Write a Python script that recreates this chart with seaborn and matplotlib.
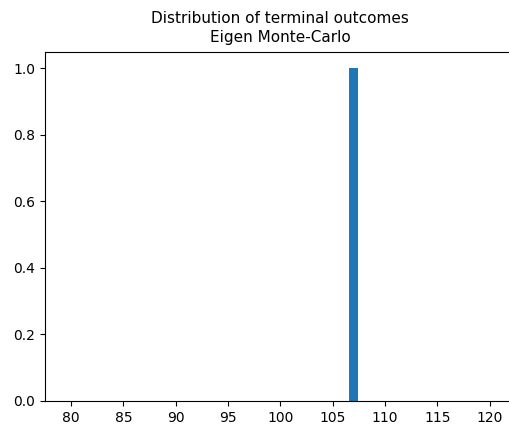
import matplotlib
matplotlib.use('Agg')
import matplotlib.pyplot as plt
import seaborn as sns
import numpy as np
import pandas as pd

# Data: every simulated terminal outcome landed on the same value
outcomes = [107.0]
bin_width = 0.8
bin_range = (80.2, 120.2)
x_limits = (77.5, 122.5)

df = pd.DataFrame({'outcome': outcomes})

fig = plt.figure(figsize=(5.09, 4.25), dpi=100)
ax = fig.add_axes([0.0884, 0.0565, 0.925, 0.822])

sns.histplot(data=df, x='outcome', stat='probability', binwidth=bin_width,
             binrange=bin_range, color='#1f77b4', alpha=1, linewidth=0, ax=ax)

ax.set_xlim(*x_limits)
ax.set_ylim(0, 1.05)
ax.set_xticks(np.arange(80, 121, 5))
ax.set_yticks(np.arange(0, 1.01, 0.2))
ax.set_xlabel('')
ax.set_ylabel('')
ax.set_title('Distribution of terminal outcomes\nEigen Monte-Carlo', fontsize=11,
             linespacing=1.35, pad=7)

fig.savefig('out.png', dpi=100)
